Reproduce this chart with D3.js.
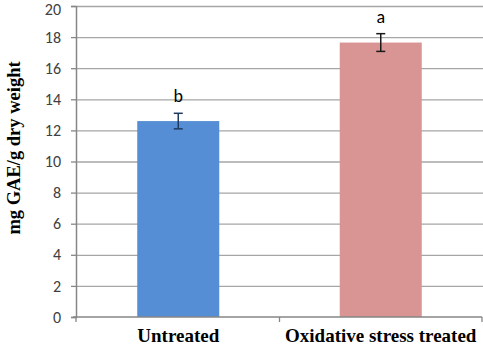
<!DOCTYPE html>
<html><head><meta charset="utf-8">
<script src="https://cdn.jsdelivr.net/npm/d3@7"></script>
<style>body{margin:0;background:#fff}svg{display:block}</style>
</head><body>
<svg id="c" width="483" height="345"></svg>
<script>
const categories = ["Untreated", "Oxidative stress treated"];
const values = [12.6, 17.65];
const errors = [0.5, 0.57];
const letters = ["b", "a"];
const colors = ["#558ed5", "#d99594"];
const errColors = ["#1f3a60", "#1a1a1a"];
const yTicks = [0, 2, 4, 6, 8, 10, 12, 14, 16, 18, 20];

(function () {
const svg = d3.select("#c");
const mLeft = 77, mRight = 482, mTop = 6, mBottom = 317;
const x = d3.scaleBand().domain(categories).range([mLeft, mRight]).padding(0);
const y = d3.scaleLinear().domain([0, 20]).range([mBottom, mTop]);

// gridlines
svg.append("g").selectAll("line").data(yTicks.filter(d => d > 0)).join("line")
  .attr("x1", mLeft).attr("x2", 483).attr("y1", d => y(d) + 0.5).attr("y2", d => y(d) + 0.5)
  .attr("stroke", "#a6a6a6").attr("stroke-width", 1.3);

// y axis
const ya = svg.append("g").attr("transform", `translate(${mLeft - 1},0)`)
  .call(d3.axisLeft(y).tickValues(yTicks).tickSize(5).tickPadding(10));
ya.select(".domain").attr("stroke", "#868686").attr("stroke-width", 1.5);
ya.selectAll(".tick line").attr("stroke", "#868686").attr("stroke-width", 1.3);
ya.selectAll(".tick text").attr("font-family", "Carlito, 'Liberation Sans', Arial, sans-serif")
  .attr("font-size", 16).attr("fill", "#404040")
  .attr("dy", d => d === 20 ? "0.5em" : "0.32em");

// bars
const bw = x.bandwidth() * 0.405;
svg.append("g").selectAll("rect").data(categories).join("rect")
  .attr("x", d => x(d) + x.bandwidth() / 2 - bw / 2)
  .attr("width", bw)
  .attr("y", (d, i) => y(values[i]))
  .attr("height", (d, i) => y(0) - y(values[i]))
  .attr("fill", (d, i) => colors[i]);

// x axis
const xa = svg.append("g").attr("transform", `translate(0,${mBottom})`);
xa.append("line").attr("x1", mLeft - 4).attr("x2", mRight).attr("y1", 0).attr("y2", 0)
  .attr("stroke", "#868686").attr("stroke-width", 1.5);
const bounds = [mLeft - 1, x(categories[1]), mRight];
xa.selectAll("line.t").data(bounds).join("line").attr("class", "t")
  .attr("x1", d => d).attr("x2", d => d).attr("y1", 0).attr("y2", 5)
  .attr("stroke", "#868686").attr("stroke-width", 1.3);
xa.selectAll("text").data(categories).join("text")
  .attr("x", d => x(d) + x.bandwidth() / 2).attr("y", 25)
  .attr("text-anchor", "middle")
  .attr("font-family", "'Liberation Serif', 'Times New Roman', serif")
  .attr("font-weight", "bold").attr("font-size", 19).attr("fill", "#000")
  .text(d => d);

// error bars
const eg = svg.append("g");
categories.forEach((c, i) => {
  const cx = x(c) + x.bandwidth() / 2;
  const y1 = y(values[i] + errors[i]), y2 = y(values[i] - errors[i]);
  const g = eg.append("g").attr("stroke", errColors[i]).attr("stroke-width", 1.5);
  g.append("line").attr("x1", cx).attr("x2", cx).attr("y1", y1).attr("y2", y2);
  g.append("line").attr("x1", cx - 4.5).attr("x2", cx + 4.5).attr("y1", y1).attr("y2", y1);
  g.append("line").attr("x1", cx - 4.5).attr("x2", cx + 4.5).attr("y1", y2).attr("y2", y2);
  svg.append("text").attr("x", cx).attr("y", y1 - 11)
    .attr("text-anchor", "middle")
    .attr("font-family", "Carlito, 'Liberation Sans', Arial, sans-serif")
    .attr("font-size", 18).attr("fill", "#000").text(letters[i]);
});

// y title
svg.append("text")
  .attr("transform", `translate(20,148) rotate(-90)`)
  .attr("text-anchor", "middle")
  .attr("font-family", "'Liberation Serif', 'Times New Roman', serif")
  .attr("font-weight", "bold").attr("font-size", 18.5).attr("fill", "#000")
  .text("mg GAE/g dry weight");
})();
</script>
</body></html>
